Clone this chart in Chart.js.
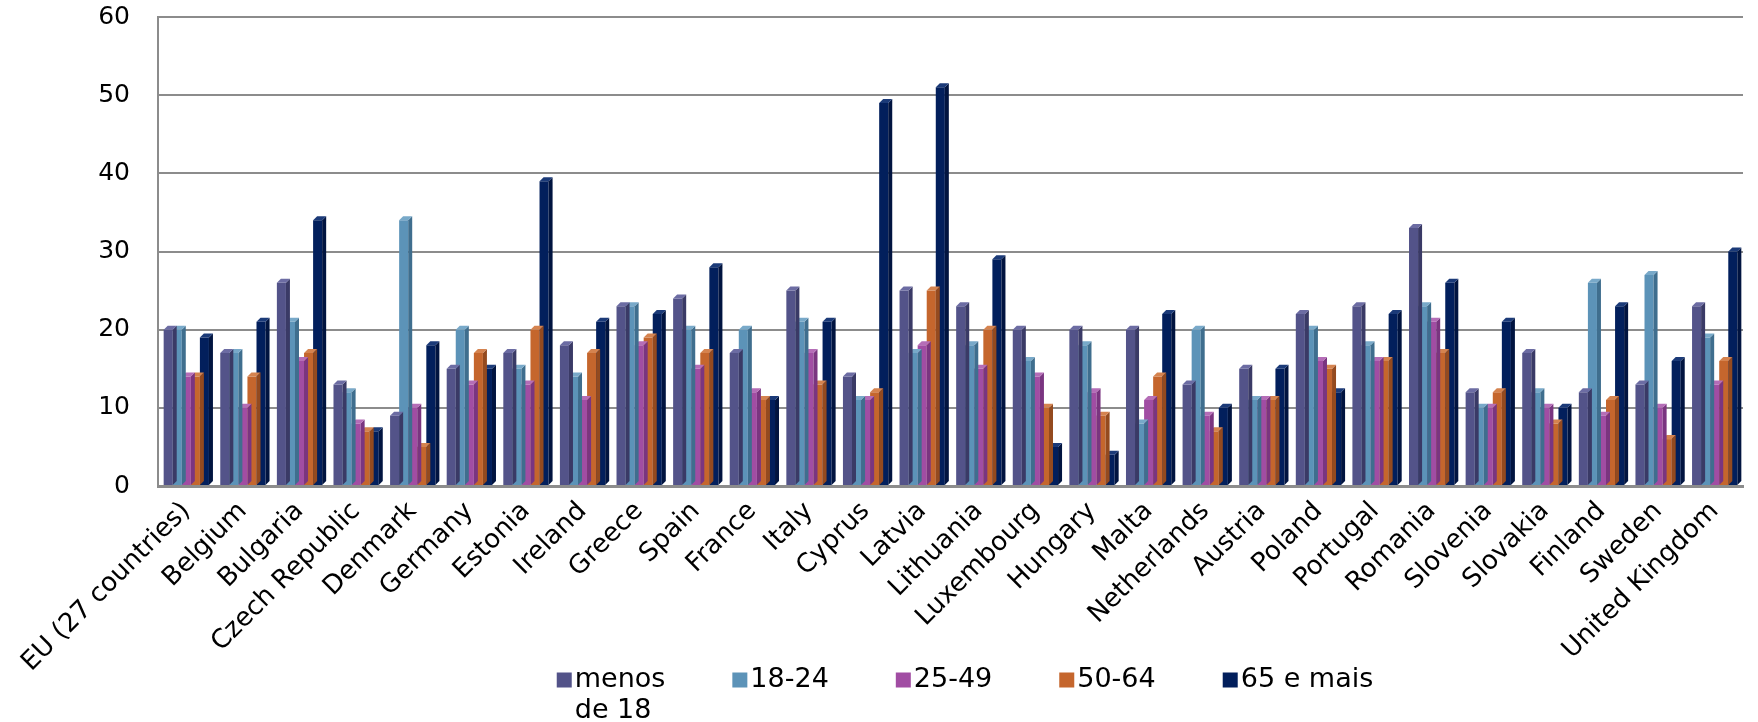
<!DOCTYPE html>
<html>
<head>
<meta charset="utf-8">
<script src="https://cdn.jsdelivr.net/npm/chart.js@4/dist/chart.umd.min.js"></script>
<style>
  html, body { margin: 0; padding: 0; background: #ffffff; }
  #wrap { width: 1758px; height: 722px; position: relative; }
</style>
</head>
<body>
<div id="wrap"><canvas id="c" width="1758" height="722"></canvas></div>
<script>
const categories = ['EU (27 countries)', 'Belgium', 'Bulgaria', 'Czech Republic', 'Denmark', 'Germany', 'Estonia', 'Ireland', 'Greece', 'Spain', 'France', 'Italy', 'Cyprus', 'Latvia', 'Lithuania', 'Luxembourg', 'Hungary', 'Malta', 'Netherlands', 'Austria', 'Poland', 'Portugal', 'Romania', 'Slovenia', 'Slovakia', 'Finland', 'Sweden', 'United Kingdom'];

const seriesNames = ['menos de 18', '18-24', '25-49', '50-64', '65 e mais'];
const legendLines = [['menos', 'de 18'], ['18-24'], ['25-49'], ['50-64'], ['65 e mais']];

const under18  = [20, 17, 26, 13,  9, 15, 17, 18, 23, 24, 17, 25, 14, 25, 23, 20, 20, 20, 13, 15, 22, 23, 33, 12, 17, 12, 13, 23];
const age18_24 = [20, 17, 21, 12, 34, 20, 15, 14, 23, 20, 20, 21, 11, 17, 18, 16, 18,  8, 20, 11, 20, 18, 23, 10, 12, 26, 27, 19];
const age25_49 = [14, 10, 16,  8, 10, 13, 13, 11, 18, 15, 12, 17, 11, 18, 15, 14, 12, 11,  9, 11, 16, 16, 21, 10, 10,  9, 10, 13];
const age50_64 = [14, 14, 17,  7,  5, 17, 20, 17, 19, 17, 11, 13, 12, 25, 20, 10,  9, 14,  7, 11, 15, 16, 17, 12,  8, 11,  6, 16];
const age65up  = [19, 21, 34,  7, 18, 15, 39, 21, 22, 28, 11, 21, 49, 51, 29,  5,  4, 22, 10, 15, 12, 22, 26, 21, 10, 23, 16, 30];

const yTicks = [0, 10, 20, 30, 40, 50, 60];

const seriesValues = [under18, age18_24, age25_49, age50_64, age65up];
const fillColors = ['#535389', '#5C93B8', '#A14DA3', '#C5662D', '#021F5C'];
const sideColors = ['#3A3A66', '#3F6E8E', '#7A3580', '#944A1F', '#011440'];
const topColors  = ['#6C6CA3', '#78A9C9', '#B56DB7', '#D5834F', '#1B3A78'];

const datasets = seriesValues.map((vals, i) => ({
  label: seriesNames[i],
  data: vals,
  backgroundColor: fillColors[i],
  borderWidth: 0,
  categoryPercentage: 0.8,
  barPercentage: 1.0
}));

const DEPTH = 4;
const bar3d = {
  id: 'bar3d',
  afterDatasetDraw(chart, args) {
    const ctx = chart.ctx;
    const i = args.index;
    const meta = args.meta;
    ctx.save();
    meta.data.forEach((el) => {
      const p = el.getProps(['x', 'y', 'base', 'width'], true);
      const l = p.x - p.width / 2, r = p.x + p.width / 2;
      const t = p.y, b = p.base;
      ctx.fillStyle = sideColors[i];
      ctx.beginPath();
      ctx.moveTo(r, t);
      ctx.lineTo(r + DEPTH, t - DEPTH);
      ctx.lineTo(r + DEPTH, b - DEPTH);
      ctx.lineTo(r, b);
      ctx.closePath();
      ctx.fill();
      ctx.fillStyle = topColors[i];
      ctx.beginPath();
      ctx.moveTo(l, t);
      ctx.lineTo(l + DEPTH, t - DEPTH);
      ctx.lineTo(r + DEPTH, t - DEPTH);
      ctx.lineTo(r, t);
      ctx.closePath();
      ctx.fill();
    });
    ctx.restore();
  }
};

const customLegend = {
  id: 'customLegend',
  afterDraw(chart) {
    const ctx = chart.ctx;
    const fontSize = 27;
    const box = 15, boxGap = 3, itemGap = 67, lineH = 31;
    const centerX = 965, row1 = 680;
    ctx.save();
    ctx.font = fontSize + 'px "DejaVu Sans"';
    ctx.textBaseline = 'middle';
    ctx.textAlign = 'left';
    const widths = legendLines.map(lines => box + boxGap + Math.max(...lines.map(s => ctx.measureText(s).width)));
    const total = widths.reduce((a, b) => a + b, 0) + itemGap * (widths.length - 1);
    let x = centerX - total / 2;
    legendLines.forEach((lines, i) => {
      ctx.fillStyle = fillColors[i];
      ctx.fillRect(x, row1 - box / 2, box, box);
      ctx.fillStyle = '#000000';
      lines.forEach((s, k) => ctx.fillText(s, x + box + boxGap, row1 + k * lineH));
      x += widths[i] + itemGap;
    });
    ctx.restore();
  }
};

new Chart(document.getElementById('c'), {
  type: 'bar',
  data: { labels: categories, datasets: datasets },
  plugins: [bar3d, customLegend],
  options: {
    responsive: false,
    animation: false,
    devicePixelRatio: 1,
    layout: { padding: { top: 0, right: 15, bottom: 0, left: 0 } },
    plugins: {
      tooltip: { enabled: false },
      legend: { display: false }
    },
    scales: {
      x: {
        grid: { display: false, drawTicks: false },
        border: { display: true, color: '#8c8c8c', width: 3 },
        ticks: {
          color: '#000000',
          font: { family: 'DejaVu Sans', size: 26 },
          minRotation: 45,
          maxRotation: 45,
          autoSkip: false,
          padding: 10
        },
        afterFit: (scale) => { scale.height = 236; }
      },
      y: {
        min: 0,
        max: 60,
        afterBuildTicks: (scale) => { scale.ticks = yTicks.map(v => ({ value: v })); },
        grid: { color: '#8c8c8c', lineWidth: 2, drawTicks: false },
        border: { display: true, color: '#8c8c8c', width: 2 },
        ticks: {
          color: '#000000',
          font: { family: 'DejaVu Sans', size: 25 },
          padding: 28
        },
        afterFit: (scale) => { scale.width = 158; scale.paddingTop = 17; }
      }
    }
  }
});
</script>
</body>
</html>
